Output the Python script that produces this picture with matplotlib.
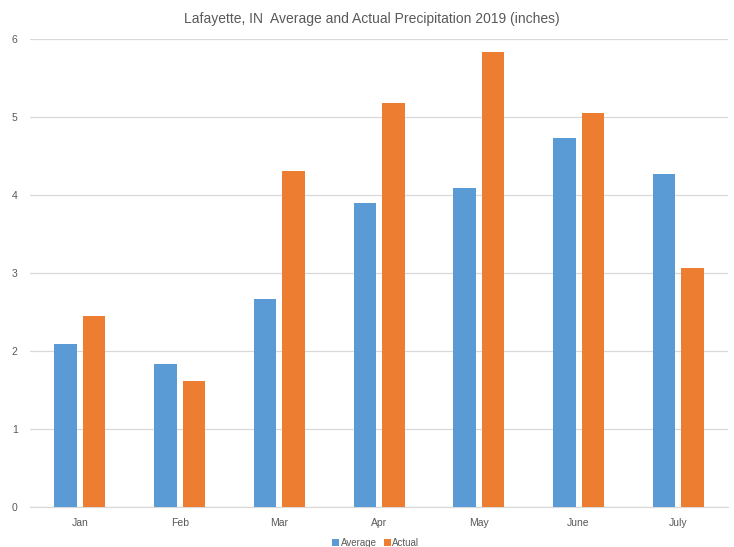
import numpy as np
import matplotlib
matplotlib.use('Agg')
import matplotlib.pyplot as plt

# monthly precipitation, inches
months = ['Jan', 'Feb', 'Mar', 'Apr', 'May', 'June', 'July']
average = [2.09, 1.84, 2.67, 3.90, 4.09, 4.73, 4.27]
actual = [2.45, 1.62, 4.31, 5.18, 5.84, 5.05, 3.07]

plt.rcParams['font.family'] = ['Liberation Sans Narrow', 'Liberation Sans', 'DejaVu Sans']

blauw = '#5B9BD5'
oranje = '#ED7D31'
grijs = '#595959'

fig = plt.figure(figsize=(7.34, 5.47), dpi=100)
ax = fig.add_axes([0.041, 0.073, 0.951, 0.855])

x = np.arange(len(months))
w = 0.225
ax.bar(x - 0.143, average, w, color=blauw, label='Average', zorder=3)
ax.bar(x + 0.143, actual, w, color=oranje, label='Actual', zorder=3)

ax.set_xlim(-0.5, len(months) - 0.5)
ax.set_ylim(0, 6)
ax.set_yticks(range(0, 7))
ax.set_xticks(x)
ax.set_xticklabels(months)
ax.yaxis.grid(True, color='#D9D9D9', linewidth=0.9, zorder=0)
ax.tick_params(axis='both', length=0, labelsize=7.5, colors=grijs)
ax.tick_params(axis='x', pad=8)
ax.tick_params(axis='y', pad=9)
for s in ['top', 'right', 'left']:
    ax.spines[s].set_visible(False)
ax.spines['bottom'].set_color('#D9D9D9')
ax.spines['bottom'].set_linewidth(0.9)

fig.suptitle('Lafayette, IN  Average and Actual Precipitation 2019 (inches)',
             x=0.506, y=0.978, fontsize=10, color=grijs)

fig.legend(loc='lower center', bbox_to_anchor=(0.512, -0.018), ncol=2, frameon=False,
           fontsize=7, handlelength=0.7, handleheight=0.7, handletextpad=0.2,
           columnspacing=0.7, labelcolor=grijs)

fig.savefig('out.png', dpi=100)
